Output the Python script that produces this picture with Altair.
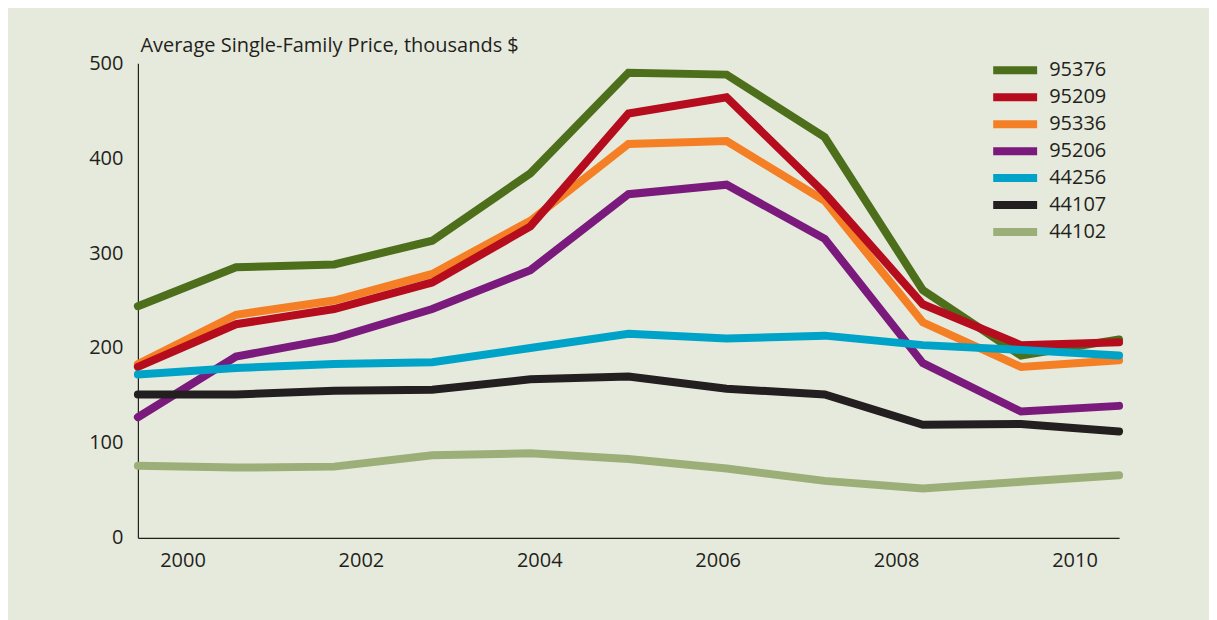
import altair as alt
import pandas as pd

TIMES = [1999.5, 2000.6, 2001.7, 2002.8, 2003.9, 2005.0, 2006.1, 2007.2, 2008.3, 2009.4, 2010.5]

# Average single-family price, thousands $
ZIP_95376 = [244, 285, 288, 313, 384, 490, 488, 422, 261, 192, 209]
ZIP_95209 = [180, 225, 241, 269, 328, 447, 464, 363, 246, 203, 206]
ZIP_95336 = [183, 235, 250, 278, 334, 415, 418, 355, 227, 180, 187]
ZIP_95206 = [127, 191, 210, 241, 282, 362, 372, 315, 184, 133, 139]
ZIP_44256 = [172, 179, 183, 185, 200, 215, 210, 213, 203, 198, 192]
ZIP_44107 = [151, 151, 155, 156, 167, 170, 157, 151, 119, 120, 112]
ZIP_44102 = [76, 74, 75, 87, 89, 83, 73, 60, 52, 59, 66]

SERIES = ["95376", "95209", "95336", "95206", "44256", "44107", "44102"]
COLORS = ["#4d6e1a", "#b50d1e", "#f47f24", "#7a1a7c", "#00a3c8", "#231f20", "#9caf78"]
VALUES = {
    "95376": ZIP_95376, "95209": ZIP_95209, "95336": ZIP_95336, "95206": ZIP_95206,
    "44256": ZIP_44256, "44107": ZIP_44107, "44102": ZIP_44102,
}
DRAW_ORDER = ["44102", "95376", "95336", "95209", "95206", "44256", "44107"]

YEAR_TICKS = [2000, 2002, 2004, 2006, 2008, 2010]
Y_TICKS = [0, 100, 200, 300, 400, 500]
Y_TITLE = "Average Single-Family Price, thousands $"

BG = "#e6eadc"
INK = "#231f20"
FONT = "Open Sans"

rows = []
for z in DRAW_ORDER:
    for t, v in zip(TIMES, VALUES[z]):
        rows.append({"zip": z, "t": t, "v": v})
df = pd.DataFrame(rows)

chart = alt.Chart(df).mark_line(strokeWidth=8, strokeCap="round").encode(
    x=alt.X(
        "t:Q",
        scale=alt.Scale(domain=[1999.5, 2010.5], nice=False, zero=False),
        axis=alt.Axis(values=YEAR_TICKS, format="d", title=None, ticks=False, grid=False,
                      labelFontSize=20, labelPadding=13, labelColor=INK, labelFont=FONT,
                      domainColor=INK, domainWidth=1.2),
    ),
    y=alt.Y(
        "v:Q",
        scale=alt.Scale(domain=[0, 500], nice=False, zero=True),
        axis=alt.Axis(values=Y_TICKS, title=Y_TITLE, titleAngle=0, titleX=2, titleY=-12,
                      titleAlign="left", titleBaseline="alphabetic", titleFontSize=20,
                      titleFontWeight="normal", titleFont=FONT, titleColor=INK,
                      ticks=False, grid=False, labelPadding=15, labelFontSize=20,
                      labelColor=INK, labelFont=FONT, domainColor=INK, domainWidth=1.2),
    ),
    color=alt.Color(
        "zip:N",
        sort=SERIES,
        scale=alt.Scale(domain=SERIES, range=COLORS),
        legend=alt.Legend(title=None, orient="none", legendX=867, legendY=-4,
                          symbolType="M-3.14,0H3.14", symbolSize=196, symbolStrokeWidth=8,
                          labelFontSize=20, labelFont=FONT, labelColor=INK,
                          labelOffset=23, rowPadding=-7.5),
    ),
).properties(
    width=982,
    height=475,
    padding={"left": 130, "top": 55, "right": 90, "bottom": 82},
    autosize="none",
    background=BG,
).configure_view(stroke=None)

chart.save("out.html", embed_options={"renderer": "svg", "actions": False})
